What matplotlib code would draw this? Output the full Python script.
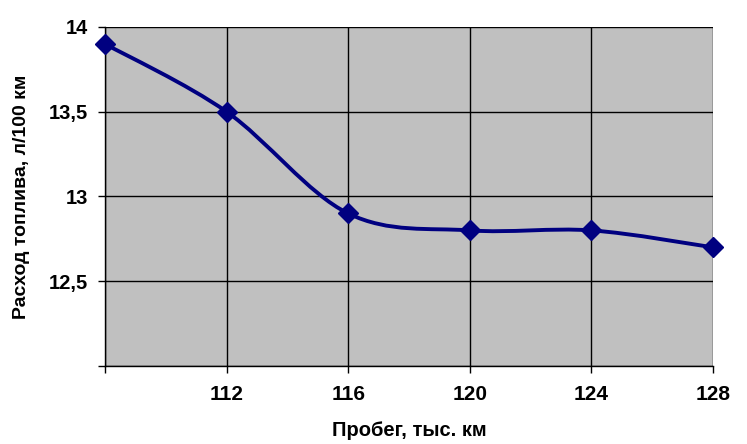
import numpy as np
import matplotlib
matplotlib.use('Agg')
from matplotlib import pyplot as plt
from matplotlib.path import Path
from matplotlib.patches import PathPatch

mileage = [108, 112, 116, 120, 124, 128]
fuel = [13.9, 13.5, 12.9, 12.8, 12.8, 12.7]
x_ticks = [108, 112, 116, 120, 124, 128]
x_labels = ['', '112', '116', '120', '124', '128']
y_ticks = [12, 12.5, 13, 13.5, 14]
y_labels = ['', '12,5', '13', '13,5', '14']

plt.rcParams['font.family'] = ['Liberation Sans', 'DejaVu Sans']
plt.rcParams['font.weight'] = 'bold'

fig = plt.figure(figsize=(7.47, 4.44), dpi=100)
ax = fig.add_axes([0.1406, 0.1757, 0.8139, 0.7635])
ax.set_facecolor('#c0c0c0')

# сглаженная линия (как в Excel): кубические кривые Безье по точкам
pts = np.column_stack([mileage, fuel]).astype(float)
ext = np.vstack([pts[0], pts, pts[-1]])
verts = [tuple(pts[0])]
codes = [Path.MOVETO]
for i in range(len(pts) - 1):
    p0, p1, p2, p3 = ext[i], ext[i + 1], ext[i + 2], ext[i + 3]
    c1 = p1 + (p2 - p0) / 6
    c2 = p2 - (p3 - p1) / 6
    verts += [tuple(c1), tuple(c2), tuple(p2)]
    codes += [Path.CURVE4] * 3
ax.add_patch(PathPatch(Path(verts, codes), fill=False, edgecolor='#000080',
                       lw=2.8, zorder=3, clip_on=False))
ax.plot(mileage, fuel, linestyle='none', marker='D', markersize=10.5,
        color='#000080', zorder=4, clip_on=False)

ax.set_xlim(108, 128)
ax.set_ylim(12, 14)
ax.set_xticks(x_ticks)
ax.set_xticklabels(x_labels)
ax.set_yticks(y_ticks)
ax.set_yticklabels(y_labels)
ax.grid(True, color='black', lw=1)
ax.set_axisbelow(True)
for s in ['top', 'right']:
    ax.spines[s].set_visible(False)
for s in ['left', 'bottom']:
    ax.spines[s].set_color('black')
    ax.spines[s].set_linewidth(1)
ax.tick_params(axis='x', length=5, width=1, pad=9, labelsize=15)
ax.tick_params(axis='y', length=5, width=1, pad=7, labelsize=14.5)

ax.set_xlabel('Пробег, тыс. км', fontsize=14.5, fontweight='bold', labelpad=12)
ax.set_ylabel('Расход топлива, л/100 км', fontsize=14, fontweight='bold', labelpad=14)

fig.savefig('out.png', dpi=100)
